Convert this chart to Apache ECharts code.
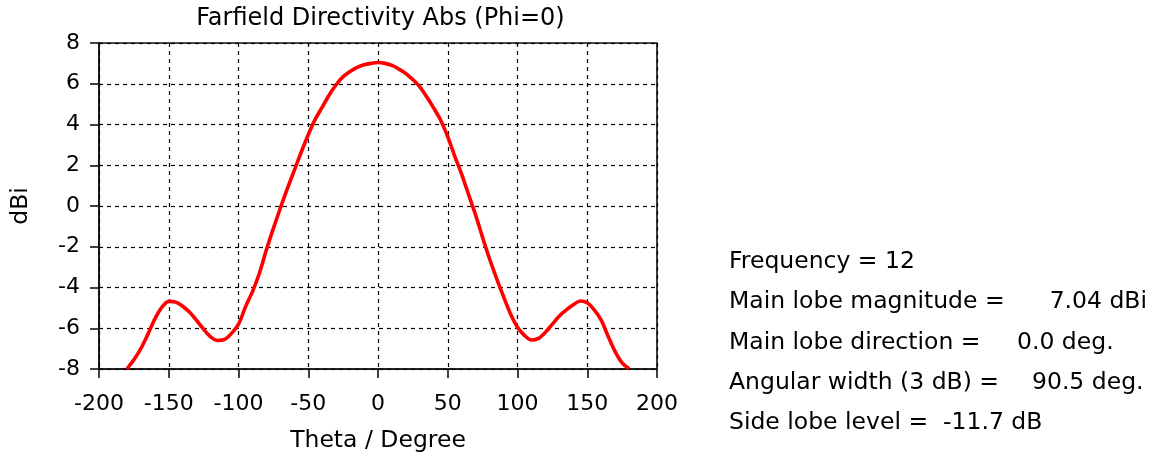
<!DOCTYPE html>
<html>
<head>
<meta charset="utf-8">
<script src="https://cdn.jsdelivr.net/npm/echarts@6/dist/echarts.min.js"></script>
<style>
html,body{margin:0;padding:0;background:#fff;}
#chart{width:1160px;height:461px;}
</style>
</head>
<body>
<div id="chart"></div>
<script>
const thetaDeg = [-180,-175,-170,-165,-160,-155,-150,-145,-140,-135,-130,-125,-120,-115,-110,-105,-100,-95,-90,-85,-80,-75,-70,-65,-60,-55,-50,-45,-40,-35,-30,-25,-20,-15,-10,-5,0,5,10,15,20,25,30,35,40,45,50,55,60,65,70,75,80,85,90,95,100,105,110,115,120,125,130,135,140,145,150,155,160,165,170,175,180];
const directivityDbi = [-8.0,-7.55,-7.0,-6.3,-5.55,-4.98,-4.68,-4.72,-4.92,-5.22,-5.62,-6.05,-6.42,-6.6,-6.55,-6.25,-5.8,-4.95,-4.2,-3.3,-2.15,-1.1,-0.1,0.85,1.75,2.65,3.5,4.25,4.85,5.45,5.95,6.35,6.6,6.8,6.93,7.0,7.04,7.0,6.9,6.72,6.5,6.2,5.85,5.35,4.8,4.2,3.4,2.45,1.55,0.55,-0.45,-1.55,-2.6,-3.55,-4.45,-5.3,-5.95,-6.35,-6.58,-6.5,-6.2,-5.8,-5.4,-5.1,-4.85,-4.66,-4.75,-5.1,-5.6,-6.4,-7.15,-7.7,-7.98];
const xTicks = [-200,-150,-100,-50,0,50,100,150,200];
const yTicks = [-8,-6,-4,-2,0,2,4,6,8];
const infoLines = [
  {label:'Frequency = 12', value:'', vx:null, align:'left'},
  {label:'Main lobe magnitude =', value:'7.04 dBi', vx:1147, align:'right'},
  {label:'Main lobe direction =', value:'0.0 deg.', vx:1017, align:'left'},
  {label:'Angular width (3 dB) =', value:'90.5 deg.', vx:1032, align:'left'},
  {label:'Side lobe level =  -11.7 dB', value:'', vx:null, align:'left'}
];

const FONT = 'DejaVu Sans';
const FS_INFO = 23.5;
const FS_TICK = 22;
const FS_NAME = 23.5;
const chart = echarts.init(document.getElementById('chart'), null, {renderer:'canvas'});

const graphics = [];
infoLines.forEach((ln, i) => {
  const y = 262 + i * 40.3;
  graphics.push({type:'text', x:729, y:y, style:{text:ln.label, font:FS_INFO+'px "'+FONT+'"', fill:'#000', align:'left', verticalAlign:'middle'}});
  if (ln.value) {
    graphics.push({type:'text', x:ln.vx, y:y, style:{text:ln.value, font:FS_INFO+'px "'+FONT+'"', fill:'#000', align:ln.align, verticalAlign:'middle'}});
  }
});
graphics.push({type:'text', x:380.5, y:18.5, style:{text:'Farfield Directivity Abs (Phi=0)', font:'24px "'+FONT+'"', fill:'#000', align:'center', verticalAlign:'middle'}});

const tickText = {color:'#000', fontFamily:FONT, fontSize:FS_TICK};
const nameText = {color:'#000', fontFamily:FONT, fontSize:FS_NAME};
chart.setOption({
  animation:false,
  backgroundColor:'#fff',
  grid:{left:99, right:503, top:43, bottom:92, show:true, borderColor:'#111', borderWidth:1.6, backgroundColor:'transparent'},
  xAxis:{
    type:'value', min:xTicks[0], max:xTicks[xTicks.length-1], interval:50,
    name:'Theta / Degree', nameLocation:'middle', nameGap:60,
    nameTextStyle:nameText,
    axisLine:{show:true, onZero:false, lineStyle:{color:'#111', width:1.6}},
    axisTick:{show:true, inside:false, length:9, lineStyle:{color:'#111', width:1.6}},
    axisLabel:Object.assign({margin:24}, tickText),
    splitLine:{show:true, lineStyle:{color:'#000', type:[4,4], width:1.2}}
  },
  yAxis:{
    type:'value', min:yTicks[0], max:yTicks[yTicks.length-1], interval:2,
    name:'dBi', nameLocation:'middle', nameGap:66, nameRotate:90,
    nameTextStyle:nameText,
    axisLine:{show:true, onZero:false, lineStyle:{color:'#111', width:1.6}},
    axisTick:{show:true, inside:false, length:9, lineStyle:{color:'#111', width:1.6}},
    axisLabel:Object.assign({margin:19}, tickText),
    splitLine:{show:true, lineStyle:{color:'#000', type:[4,4], width:1.2}}
  },
  series:[{
    type:'line',
    data:thetaDeg.map((t,i)=>[t, directivityDbi[i]]),
    smooth:0.3,
    showSymbol:false,
    lineStyle:{color:'#ff0000', width:3.6},
    z:5
  }],
  graphic:graphics
});
</script>
</body>
</html>
